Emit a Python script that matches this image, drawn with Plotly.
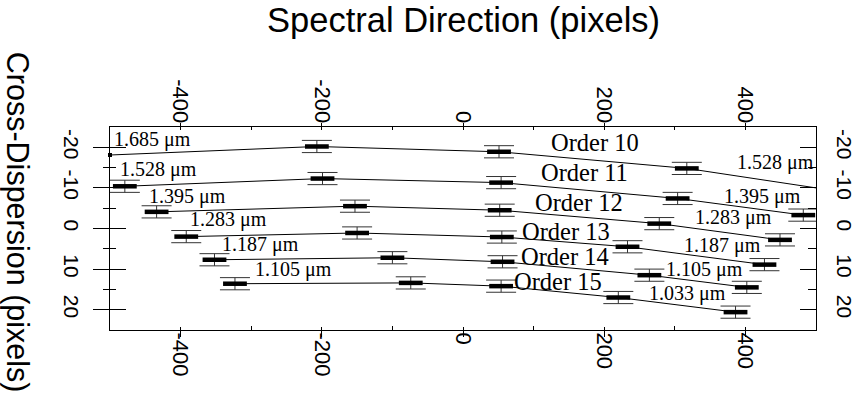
import plotly.graph_objects as go

# ---------------- data ----------------
order_names = ["Order 10", "Order 11", "Order 12", "Order 13", "Order 14", "Order 15"]

x_o10 = [-207, 51, 317]
y_o10 = [-20.2, -18.9, -14.8]
x_o11 = [-479, -199, 54, 304, 482]
y_o11 = [-10.4, -12.3, -11.3, -7.4, -3.3]
x_o12 = [-434, -153, 52, 278, 449]
y_o12 = [-4.1, -5.5, -4.5, -1.2, 2.8]
x_o13 = [-392, -150, 55, 233, 427]
y_o13 = [2.0, 1.1, 2.1, 4.5, 8.9]
x_o14 = [-352, -100, 56, 264, 402]
y_o14 = [7.7, 7.2, 8.2, 11.5, 14.5]
x_o15 = [-323, -74, 54, 220, 386]
y_o15 = [13.6, 13.4, 14.2, 17.0, 20.6]
err_y = 1.5  # half-size of the cross-dispersion error bars (pixels)

# order 10 trace continues to the edges of the detector
x_o10_ends = [-500, 500]
y_o10_ends = [-18.1, -10.0]

x_all = [x_o10, x_o11, x_o12, x_o13, x_o14, x_o15]
y_all = [y_o10, y_o11, y_o12, y_o13, y_o14, y_o15]

wl_left = ["1.685 μm", "1.528 μm", "1.395 μm", "1.283 μm", "1.187 μm", "1.105 μm"]
wl_right = ["1.528 μm", "1.395 μm", "1.283 μm", "1.187 μm", "1.105 μm", "1.033 μm"]

x_ticks = [-400, -200, 0, 200, 400]
x_tick_text = ["-400", "-200", "0", "200", "400"]
x_minor = [-300, -100, 100, 300]
y_ticks = [-20, -10, 0, 10, 20]
y_tick_text = ["-20", "-10", "0", "10", "20"]
y_minor = [-15, -5, 5, 15]

# label placement (data coordinates)
wl_left_pos = [(-497, -22.0), (-488, -14.6), (-447, -8.0), (-389, -2.1), (-344, 4.0), (-298, 10.1)]
wl_right_pos = [(500, -16.2), (482, -8.0), (440, -2.6), (425, 4.2), (400, 10.1), (375, 15.9)]
order_pos = [(187, -21.3), (172, -13.9), (165, -6.3), (146, 0.7), (144, 6.8), (134, 13.0)]

# ---------------- figure ----------------
fig = go.Figure()

line_x10 = [x_o10_ends[0]] + x_o10 + [x_o10_ends[1]]
line_y10 = [y_o10_ends[0]] + y_o10 + [y_o10_ends[1]]
fig.add_trace(go.Scatter(x=line_x10, y=line_y10, mode="lines",
                         line=dict(color="black", width=1), showlegend=False, hoverinfo="skip"))
fig.add_trace(go.Scatter(x=[x_o10_ends[0]], y=[y_o10_ends[0]], mode="markers",
                         marker=dict(symbol="square", size=4, color="black"),
                         showlegend=False, hoverinfo="skip", cliponaxis=False))

for i, (xs, ys) in enumerate(zip(x_all, y_all)):
    if i > 0:
        fig.add_trace(go.Scatter(x=xs, y=ys, mode="lines",
                                 line=dict(color="black", width=1),
                                 showlegend=False, hoverinfo="skip"))
    fig.add_trace(go.Scatter(
        x=xs, y=ys, mode="markers", name=order_names[i],
        marker=dict(symbol="line-ew", size=17, color="black",
                    line=dict(color="black", width=4.5)),
        error_y=dict(type="constant", value=err_y, color="#333333", thickness=1, width=15),
        showlegend=False))

# dummy traces to activate overlaid axes
for xa, ya in [("x2", "y"), ("x3", "y"), ("x4", "y"), ("x", "y2"), ("x", "y3")]:
    fig.add_trace(go.Scatter(x=[None], y=[None], xaxis=xa, yaxis=ya,
                             showlegend=False, hoverinfo="skip"))

sans = "Liberation Sans, Arial"
xfont = dict(family=sans, size=22, color="black")
yfont = dict(family=sans, size=21, color="black")

xbase = dict(range=[-500, 500], tickmode="array", tickvals=x_ticks, ticktext=x_tick_text,
             tickangle=90, tickfont=xfont, tickcolor="black", tickwidth=1, automargin=False,
             showgrid=False, zeroline=False, linecolor="black", linewidth=1)
ybase = dict(range=[25, -25], tickmode="array", tickvals=y_ticks, ticktext=y_tick_text,
             tickangle=90, tickfont=yfont, tickcolor="black", tickwidth=1, automargin=False,
             showgrid=False, zeroline=False, linecolor="black", linewidth=1)

fig.update_layout(
    width=855, height=401,
    margin=dict(l=110, r=39, t=127, b=71),
    paper_bgcolor="white", plot_bgcolor="white",
    xaxis=dict(**xbase, side="bottom", anchor="y", showline=True, ticks="outside", ticklen=6,
               ticklabelstandoff=-9,
               minor=dict(tickmode="array", tickvals=x_minor, ticks="inside", ticklen=4,
                          tickcolor="black", showgrid=False)),
    xaxis2=dict(**xbase, side="top", anchor="y", overlaying="x", showline=True,
                ticks="outside", ticklen=3, ticklabelstandoff=-8,
                minor=dict(tickmode="array", tickvals=x_minor, ticks="inside", ticklen=3,
                           tickcolor="black", showgrid=False)),
    xaxis3=dict(**xbase, side="bottom", anchor="y", overlaying="x", showline=False,
                ticks="inside", ticklen=3, showticklabels=False),
    xaxis4=dict(**xbase, side="top", anchor="y", overlaying="x", showline=False,
                ticks="inside", ticklen=3, showticklabels=False),
    yaxis=dict(**ybase, side="left", anchor="x", showline=True, ticks="outside", ticklen=16,
               ticklabelstandoff=4,
               minor=dict(tickmode="array", tickvals=y_minor, ticks="outside", ticklen=6,
                          tickcolor="black", showgrid=False)),
    yaxis2=dict(**ybase, side="right", anchor="x", overlaying="y", showline=True,
                ticks="inside", ticklen=16, ticklabelstandoff=12,
                minor=dict(tickmode="array", tickvals=y_minor, ticks="inside", ticklen=8,
                           tickcolor="black", showgrid=False)),
    yaxis3=dict(**ybase, side="left", anchor="x", overlaying="y", showline=False,
                ticks="inside", ticklen=16, showticklabels=False,
                minor=dict(tickmode="array", tickvals=y_minor, ticks="inside", ticklen=6,
                           tickcolor="black", showgrid=False)),
)

serif = "Liberation Serif, Times New Roman, serif"
annotations = []
for txt, (ax, ay) in zip(wl_left, wl_left_pos):
    annotations.append(dict(x=ax, y=ay, xref="x", yref="y", text=txt, showarrow=False,
                            xanchor="left", yanchor="middle",
                            font=dict(family=serif, size=20, color="black")))
for txt, (ax, ay) in zip(wl_right, wl_right_pos):
    annotations.append(dict(x=ax, y=ay, xref="x", yref="y", text=txt, showarrow=False,
                            xanchor="right", yanchor="middle",
                            font=dict(family=serif, size=20, color="black")))
for txt, (ax, ay) in zip(order_names, order_pos):
    annotations.append(dict(x=ax, y=ay, xref="x", yref="y", text=txt, showarrow=False,
                            xanchor="center", yanchor="middle",
                            font=dict(family=serif, size=24.5, color="black")))
annotations.append(dict(x=0.5, y=1.527, xref="paper", yref="paper",
                        text="Spectral Direction (pixels)", showarrow=False,
                        xanchor="center", yanchor="middle", borderpad=0,
                        font=dict(family=sans, size=34.5, color="black")))
annotations.append(dict(x=-0.130, y=0.532, xref="paper", yref="paper",
                        text="Cross-Dispersion (pixels)", showarrow=False, textangle=90,
                        xanchor="center", yanchor="middle", borderpad=0,
                        font=dict(family=sans, size=30.5, color="black")))
fig.update_layout(annotations=annotations)

# remove the browser's default page margin so the figure sits at the window origin
fig.write_html("out.html", config={"displayModeBar": False},
               post_script="document.body.style.margin='0px';document.body.style.overflow='hidden';")
